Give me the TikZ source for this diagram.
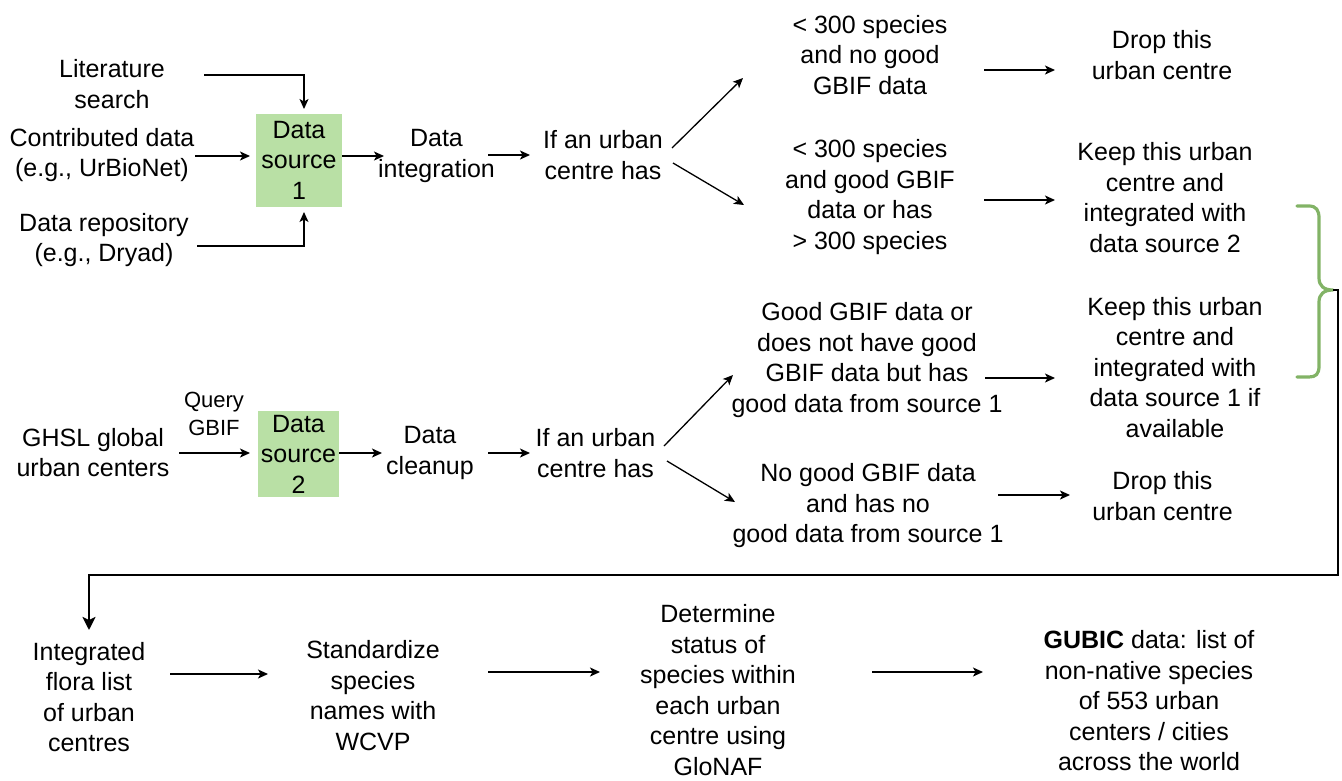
\documentclass[tikz,border=0pt]{standalone}
\usepackage{fontspec}
\setmainfont{Liberation Sans}
\usetikzlibrary{arrows.meta}
\definecolor{boxgreen}{RGB}{185,224,165}
\definecolor{bracegreen}{RGB}{130,179,102}
\begin{document}
\begin{tikzpicture}[x=1pt,y=1pt,
  txt/.style={align=center,inner sep=0pt,font=\fontsize{25}{30.5}\selectfont},
  smalltxt/.style={align=center,inner sep=0pt,font=\fontsize{22}{28}\selectfont},
  srcbox/.style={fill=boxgreen,draw=none,inner sep=0pt,align=center,font=\fontsize{25}{30.5}\selectfont},
  arr/.style={line width=1.3pt,-{Stealth[length=10pt,width=9pt,inset=2.5pt]}},
  bigarr/.style={line width=2.5pt,line join=miter,-{Stealth[length=13pt,width=13pt,inset=3pt]}},
  brace/.style={draw=bracegreen,line width=3.2pt,line cap=round,line join=round}]
\useasboundingbox (0,0) rectangle (1342,-780);

% ---- top section (data source 1)
\node[txt] (lit) at (112,-84) {Literature\\search};
\node[txt] (contrib) at (102,-155) {Contributed data\\(e.g., UrBioNet)};
\node[txt] (repo) at (104,-240) {Data repository\\(e.g., Dryad)};
\node[srcbox,minimum width=86pt,minimum height=93pt] (ds1) at (299,-160) {Data\\source\\1};
\node[txt] (integ) at (436.5,-156) {Data\\integration};
\node[txt] (ifa) at (603,-155) {If an urban\\centre has};
\node[txt] (upa) at (870,-55) {< 300 species\\and no good\\GBIF data};
\node[txt] (mida) at (870,-197) {< 300 species\\and good GBIF\\data or has\\> 300 species};
\node[txt] (dropa) at (1162,-55) {Drop this\\urban centre};
\node[txt] (keepa) at (1165,-197.5) {Keep this urban\\centre and\\integrated with\\data source 2};

% ---- middle section (data source 2)
\node[txt] (ghsl) at (93,-452.5) {GHSL global\\urban centers};
\node[smalltxt] (query) at (214,-414) {Query\\GBIF};
\node[srcbox,minimum width=81pt,minimum height=86pt] (ds2) at (298.5,-454) {Data\\source\\2};
\node[txt] (clean) at (430,-453) {Data\\cleanup};
\node[txt] (ifb) at (595.5,-453) {If an urban\\centre has};
\node[txt] (upb) at (867,-360) {Good GBIF data or\\does not have good\\GBIF data but has\\good data from source 1};
\node[txt] (lowb) at (868,-506) {No good GBIF data\\and has no\\good data from source 1};
\node[txt] (keepb) at (1175,-367.5) {Keep this urban\\centre and\\integrated with\\data source 1 if\\available};
\node[txt] (dropb) at (1162.5,-496) {Drop this\\urban centre};

% ---- bottom row
\node[txt] (flora) at (89,-697) {Integrated\\flora list\\of urban\\centres};
\node[txt] (std) at (373,-695.5) {Standardize\\species\\names with\\WCVP};
\node[txt] (det) at (718,-690) {Determine\\status of\\species within\\each urban\\centre using\\GloNAF};
\node[txt] (gubic) at (1149,-701) {\textbf{GUBIC} data: list of\\non-native species\\of 553 urban\\centers / cities\\across the world};

% ---- connectors, top
\draw[arr] ([shift={(92,9)}]lit.center) -| ([shift={(5,51)}]ds1.center);
\draw[arr] ([shift={(93,-1)}]contrib.center) -- ([shift={(-49,4)}]ds1.center);
\draw[arr] ([shift={(93,-6)}]repo.center) -| ([shift={(5,-52)}]ds1.center);
\draw[arr] ([shift={(43,4)}]ds1.center) -- ([shift={(-52.5,0)}]integ.center);
\draw[arr] ([shift={(51.5,1)}]integ.center) -- ([shift={(-73,0)}]ifa.center);
\draw[arr] ([shift={(69,7)}]ifa.center) -- ([shift={(-127,-23)}]upa.center);
\draw[arr] ([shift={(70,-8)}]ifa.center) -- ([shift={(-126,-8)}]mida.center);
\draw[arr] ([shift={(114,-15)}]upa.center) -- ([shift={(-107,-15)}]dropa.center);
\draw[arr] ([shift={(114,-3)}]mida.center) -- ([shift={(-110,-2.5)}]keepa.center);

% ---- connectors, middle
\draw[arr] ([shift={(86,-0.5)}]ghsl.center) -- ([shift={(-48.5,1)}]ds2.center);
\draw[arr] ([shift={(40.5,1)}]ds2.center) -- ([shift={(-48,0)}]clean.center);
\draw[arr] ([shift={(58,0)}]clean.center) -- ([shift={(-65.5,0)}]ifb.center);
\draw[arr] ([shift={(68.5,7)}]ifb.center) -- ([shift={(-134,-15)}]upb.center);
\draw[arr] ([shift={(71.5,-8)}]ifb.center) -- ([shift={(-133,4)}]lowb.center);
\draw[arr] ([shift={(118,-18)}]upb.center) -- ([shift={(-120,-10.5)}]keepb.center);
\draw[arr] ([shift={(130,11)}]lowb.center) -- ([shift={(-92.5,1)}]dropb.center);

% ---- connectors, bottom
\draw[arr] ([shift={(81,23)}]flora.center) -- ([shift={(-105,21.5)}]std.center);
\draw[arr] ([shift={(115,23.5)}]std.center) -- ([shift={(-118,18)}]det.center);
\draw[arr] ([shift={(154,18)}]det.center) -- ([shift={(-166,29)}]gubic.center);

% ---- green brace and the long connector
\draw[brace] (1297,-206) -- (1309,-206)
  .. controls (1316,-206) and (1319,-210) .. (1319,-218) -- (1319,-278)
  .. controls (1319,-286) and (1324,-290) .. (1333,-290)
  .. controls (1324,-290) and (1319,-294) .. (1319,-302) -- (1319,-366)
  .. controls (1319,-374) and (1316,-377) .. (1309,-377) -- (1297,-377);
\coordinate (brtip) at (1333,-290);
\coordinate (turn) at (1338,-575);
\draw[bigarr] (brtip) -| (turn) -| ([shift={(0,67)}]flora.center);
\end{tikzpicture}
\end{document}
